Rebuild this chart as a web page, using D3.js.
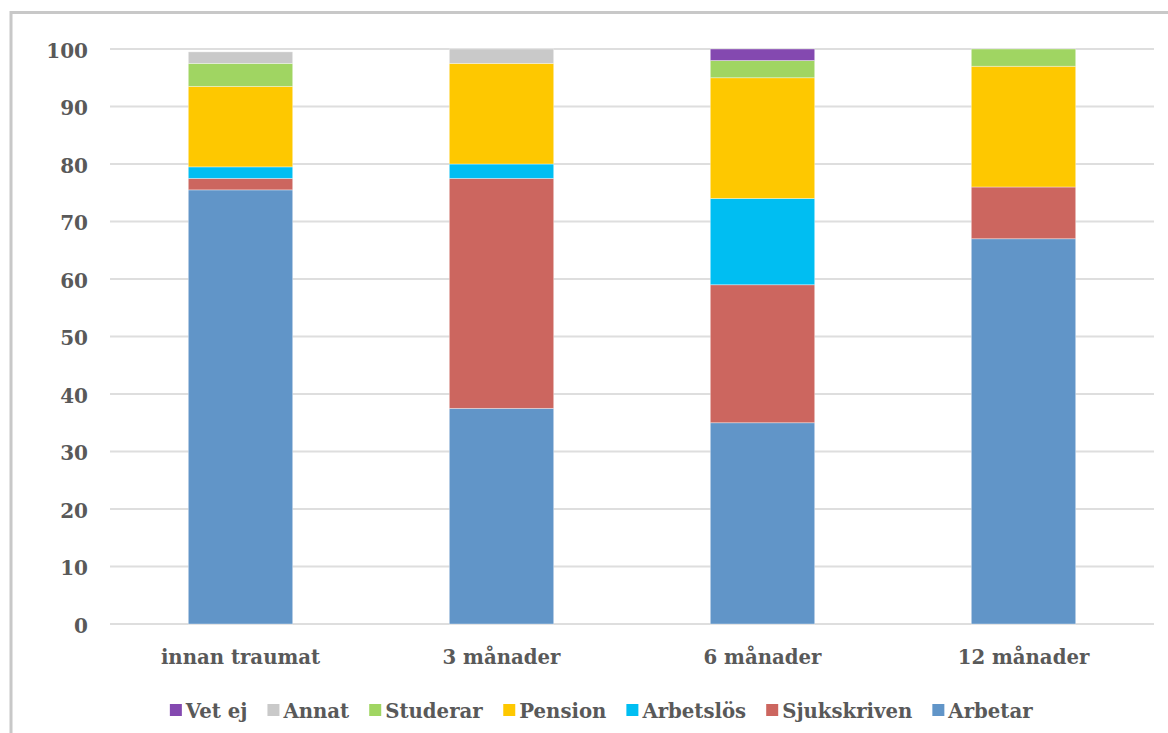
<!DOCTYPE html>
<html><head><meta charset="utf-8">
<script src="https://cdn.jsdelivr.net/npm/d3@7"></script>
<style>
html,body{margin:0;padding:0;background:#fff;}
svg{display:block;}
text{font-family:"DejaVu Serif","Liberation Serif",serif;font-weight:bold;fill:#595959;}
</style></head>
<body>
<svg id="chart" width="1168" height="733"></svg>
<script>
const categories = ["innan traumat", "3 månader", "6 månader", "12 månader"];
const seriesNames = ["Arbetar", "Sjukskriven", "Arbetslös", "Pension", "Studerar", "Annat", "Vet ej"];
const arbetar     = [75.5, 37.5, 35, 67];
const sjukskriven = [2, 40, 24, 9];
const arbetslos   = [2, 2.5, 15, 0];
const pension     = [14, 17.5, 21, 21];
const studerar    = [4, 0, 3, 3];
const annat       = [2, 2.5, 0, 0];
const vetEj       = [0, 0, 2, 0];
const colors = ["#6195C8", "#CC665F", "#00BEF2", "#FEC800", "#A0D562", "#C9C9C9", "#8449B0"];
const legendOrder = ["Vet ej", "Annat", "Studerar", "Pension", "Arbetslös", "Sjukskriven", "Arbetar"];
const yTicks = [0, 10, 20, 30, 40, 50, 60, 70, 80, 90, 100];

const seriesValues = [arbetar, sjukskriven, arbetslos, pension, studerar, annat, vetEj];
const rows = categories.map((c, i) => {
  const r = {cat: c};
  seriesNames.forEach((s, j) => r[s] = seriesValues[j][i]);
  return r;
});
const stacked = d3.stack().keys(seriesNames)(rows);
const color = d3.scaleOrdinal().domain(seriesNames).range(colors);

const svg = d3.select("#chart");
// outer frame
svg.append("rect").attr("x", 11).attr("y", 12.5).attr("width", 1200).attr("height", 800)
  .attr("fill", "none").attr("stroke", "#C8C8C8").attr("stroke-width", 3);

const x = d3.scaleBand().domain(categories).range([110, 1154]).paddingInner(0.6).paddingOuter(0.3);
const y = d3.scaleLinear().domain([0, 100]).range([624, 49]);

// gridlines
svg.append("g").selectAll("line").data(yTicks).join("line")
  .attr("x1", 110).attr("x2", 1154)
  .attr("y1", d => y(d)).attr("y2", d => y(d))
  .attr("stroke", "#DEDEDE").attr("stroke-width", 2);

// y axis labels
const yAxis = d3.axisLeft(y).tickValues(yTicks).tickSize(0).tickPadding(0);
const gy = svg.append("g").attr("transform", "translate(88,0)").call(yAxis);
gy.select(".domain").remove();
gy.selectAll("text").attr("font-size", 20).attr("dy", "0.42em")
  .style("font-family", '"DejaVu Serif",serif').style("font-weight", "bold").attr("fill", "#595959");

// bars
svg.append("g").selectAll("g").data(stacked).join("g")
  .attr("fill", d => color(d.key))
  .selectAll("rect").data(d => d).join("rect")
  .attr("x", d => x(d.data.cat))
  .attr("width", x.bandwidth())
  .attr("y", d => y(d[1]))
  .attr("height", d => y(d[0]) - y(d[1]))
  .attr("stroke", "#ffffff").attr("stroke-opacity", 0.45).attr("stroke-width", 0.8);

// x axis labels
const xAxis = d3.axisBottom(x).tickSize(0).tickPadding(0);
const gx = svg.append("g").attr("transform", "translate(0,664)").call(xAxis);
gx.select(".domain").remove();
gx.selectAll("text").attr("font-size", 19.7).attr("dy", 0)
  .style("font-family", '"DejaVu Serif",serif').style("font-weight", "bold").attr("fill", "#595959");

// legend
const lg = svg.append("g");
const items = lg.selectAll("g").data(legendOrder).join("g");
items.append("rect").attr("width", 12).attr("height", 12).attr("y", 704).attr("fill", d => color(d));
items.append("text").attr("x", 16).attr("y", 718).attr("font-size", 19.7).text(d => d);
let cx = 0;
const widths = [];
items.each(function() { widths.push(this.getBBox().width); });
const gap = 20;
const total = d3.sum(widths) + gap * (widths.length - 1);
cx = 601.5 - total / 2;
items.attr("transform", (d, i) => { const t = `translate(${cx},0)`; cx += widths[i] + gap; return t; });
</script>
</body></html>
